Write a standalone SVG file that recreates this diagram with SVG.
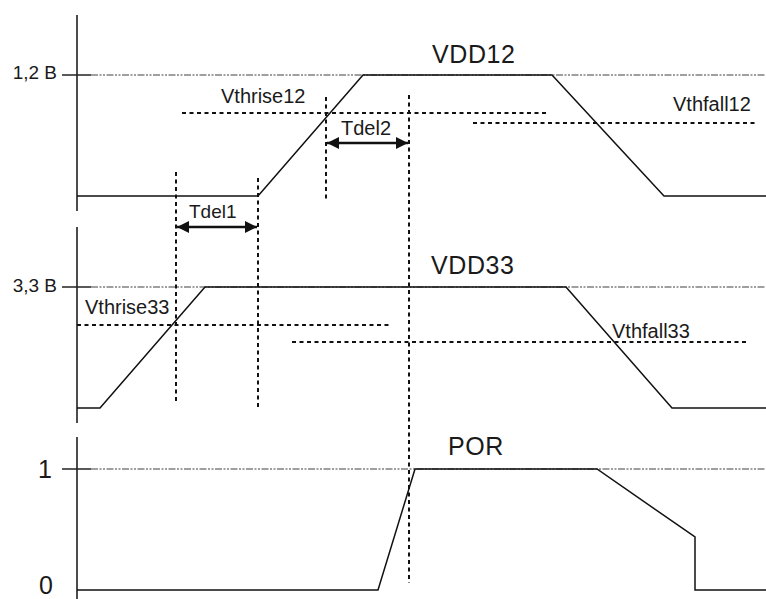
<svg xmlns="http://www.w3.org/2000/svg" width="766" height="599" viewBox="0 0 766 599">
<style>
.axis{stroke:#111;stroke-width:1.5;fill:none}
.tick{stroke:#222;stroke-width:1.5}
.ref{stroke:#808080;stroke-width:1.5;stroke-dasharray:7 1.5 2 1.5 2 1.5;fill:none}
.wave{stroke:#111;stroke-width:1.5;fill:none;stroke-linejoin:miter}
.dot{stroke:#111;stroke-width:2;stroke-dasharray:4 3.5;fill:none}
.arr{stroke:#111;stroke-width:2.5;fill:none}
.t{font-family:"Liberation Sans",Arial,sans-serif;fill:#1a1a1a}
.big{font-size:25px;letter-spacing:0.6px}
.mid{font-size:20px}
.lvl{font-size:19px}
</style>
<defs>
<marker id="ah" viewBox="0 0 12 12" refX="12" refY="6" markerWidth="12" markerHeight="12" markerUnits="userSpaceOnUse" orient="auto-start-reverse">
<path d="M0,0 L12,6 L0,12 Z" fill="#111"/>
</marker>
</defs>
<rect width="766" height="599" fill="#fff"/>
<g id="axes">
<line class="axis" x1="77" y1="15" x2="77" y2="211"/>
<line class="axis" x1="77" y1="227" x2="77" y2="423"/>
<line class="axis" x1="77" y1="437" x2="77" y2="599"/>
<line class="ref" x1="91" y1="75" x2="766" y2="75"/>
<line class="ref" x1="91" y1="287" x2="766" y2="287"/>
<line class="ref" x1="91" y1="469" x2="766" y2="469"/>
<line class="tick" x1="62" y1="75" x2="91" y2="75"/>
<line class="tick" x1="62" y1="287" x2="91" y2="287"/>
<line class="tick" x1="62" y1="469" x2="91" y2="469"/>
<text class="t lvl" x="57" y="79" text-anchor="end">1,2 B</text>
<text class="t lvl" x="57" y="292" text-anchor="end">3,3 B</text>
<text class="t big" x="38" y="478">1</text>
<text class="t big" x="39" y="594">0</text>
</g>
<g id="vdd12">
<polyline class="wave" points="77,196 258,196 363,75 552,75 664,196 766,196"/>
<text class="t big" x="432" y="63">VDD12</text>
</g>
<g id="vdd33">
<polyline class="wave" points="77,408 100,408 205,287 566,287 672,408 766,408"/>
<text class="t big" x="431" y="274">VDD33</text>
</g>
<g id="por">
<polyline class="wave" points="77,590 378,590 415,469 597,469 695,537 695,590 766,590"/>
<text class="t big" x="448" y="455">POR</text>
</g>
<g id="thresholds">
<line class="dot" x1="182" y1="113" x2="548" y2="113"/>
<line class="dot" x1="473" y1="123" x2="756" y2="123"/>
<line class="dot" x1="77" y1="325" x2="390" y2="325"/>
<line class="dot" x1="292" y1="342" x2="748" y2="342"/>
<text class="t mid" x="221" y="103">Vthrise12</text>
<text class="t mid" x="673" y="111">Vthfall12</text>
<text class="t mid" x="85" y="314">Vthrise33</text>
<text class="t mid" x="612" y="338">Vthfall33</text>
</g>
<g id="connectors">
<line class="dot" x1="176" y1="172" x2="176" y2="404"/>
<line class="dot" x1="258" y1="178" x2="258" y2="409"/>
<line class="dot" x1="326" y1="97" x2="326" y2="200"/>
<line class="dot" x1="409" y1="95" x2="409" y2="583"/>
<line class="arr" x1="177" y1="227" x2="257" y2="227" marker-start="url(#ah)" marker-end="url(#ah)"/>
<line class="arr" x1="327" y1="143" x2="408" y2="143" marker-start="url(#ah)" marker-end="url(#ah)"/>
<text class="t lvl" x="189" y="218">Tdel1</text>
<text class="t mid" x="341" y="135">Tdel2</text>
</g>
</svg>
